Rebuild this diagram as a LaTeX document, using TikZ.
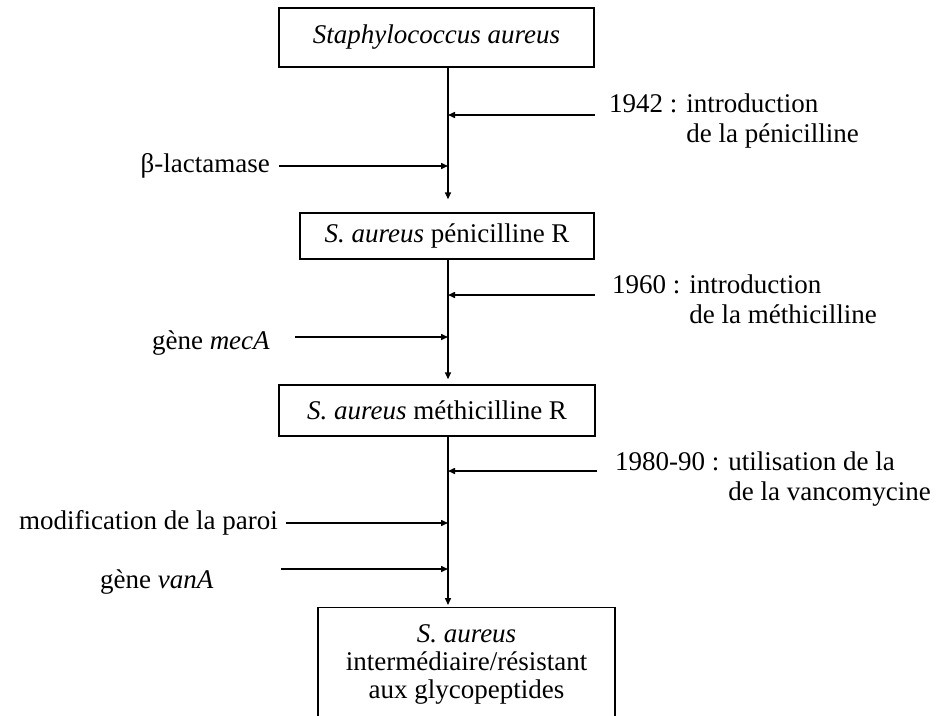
\documentclass[tikz,border=0pt]{standalone}
\usepackage{fontspec}
\setmainfont{Liberation Serif}
\usetikzlibrary{arrows.meta}

\begin{document}
\begin{tikzpicture}[x=1pt,y=-1pt,
  every node/.style={font=\fontsize{27}{30}\selectfont},
  box/.style={draw,line width=1.4pt,inner sep=0pt},
  lab/.style={inner sep=0pt,align=left},
  arr/.style={-{Triangle[length=7pt,width=6pt]},line width=1.5pt}]
\useasboundingbox (0,0) rectangle (942,715);
\clip (0,0) rectangle (942,715);

% the four stages
\node[box,minimum width=315pt,minimum height=59pt] (sa) at (436.5,37.5) {\textit{Staphylococcus aureus}};
\node[box,minimum width=294pt,minimum height=46pt] (pen) at (447,236) {\textit{S. aureus} pénicilline R};
\node[box,minimum width=316pt,minimum height=51pt] (meth) at (437,410.5) {\textit{S. aureus} méthicilline R};
\node[box,minimum width=297pt,anchor=north,align=center,inner ysep=17pt,text depth=80pt,font=\fontsize{27}{28}\selectfont] (gly) at (466.5,607) {\textit{S. aureus}\\intermédiaire/résistant\\aux glycopeptides};

% points on the main line
\coordinate (s1) at (448,115);
\coordinate (s2) at (448,166);
\coordinate (s3) at (448,295);
\coordinate (s4) at (448,337);
\coordinate (s5) at (448,471);
\coordinate (s6) at (448,523);
\coordinate (s7) at (448,569);

% free ends of the side arrows
\coordinate (r1) at (595,115);
\coordinate (l2) at (279,166);
\coordinate (r3) at (595,295);
\coordinate (l4) at (295,337);
\coordinate (r5) at (597,471);
\coordinate (l6) at (286,523);
\coordinate (l7) at (281,569);

% labels (base = baseline of the second line)
\node[lab,anchor=base west] (t1942) at (609,142) {1942 : introduction\\\phantom{1942 : }de la pénicilline};
\node[lab,anchor=east] (lact) at (270,166) {β-lactamase};
\node[lab,anchor=base west] (t1960) at (612,323) {1960 : introduction\\\phantom{1960 : }de la méthicilline};
\node[lab,anchor=east] (meca) at (270,343) {gène \textit{mecA}};
\node[lab,anchor=base west] (t1980) at (615,500) {1980-90 : utilisation de la\\\phantom{1980-90 : }de la vancomycine};
\node[lab,anchor=east] (paroi) at (278,523) {modification de la paroi};
\node[lab,anchor=west] (vana) at (100,582) {gène \textit{vanA}};

% main line
\draw[arr,shorten >=13pt] (sa.south -| s1) -- (pen.north -| s1);
\draw[arr,shorten >=5pt] (pen.south -| s1) -- (meth.north -| s1);
\draw[arr,shorten >=2pt] (meth.south -| s1) -- (gly.north -| s1);

% side arrows
\draw[arr] (r1) -- (s1);
\draw[arr] (l2) -- (s2);
\draw[arr] (r3) -- (s3);
\draw[arr] (l4) -- (s4);
\draw[arr] (r5) -- (s5);
\draw[arr] (l6) -- (s6);
\draw[arr] (l7) -- (s7);
\end{tikzpicture}
\end{document}
